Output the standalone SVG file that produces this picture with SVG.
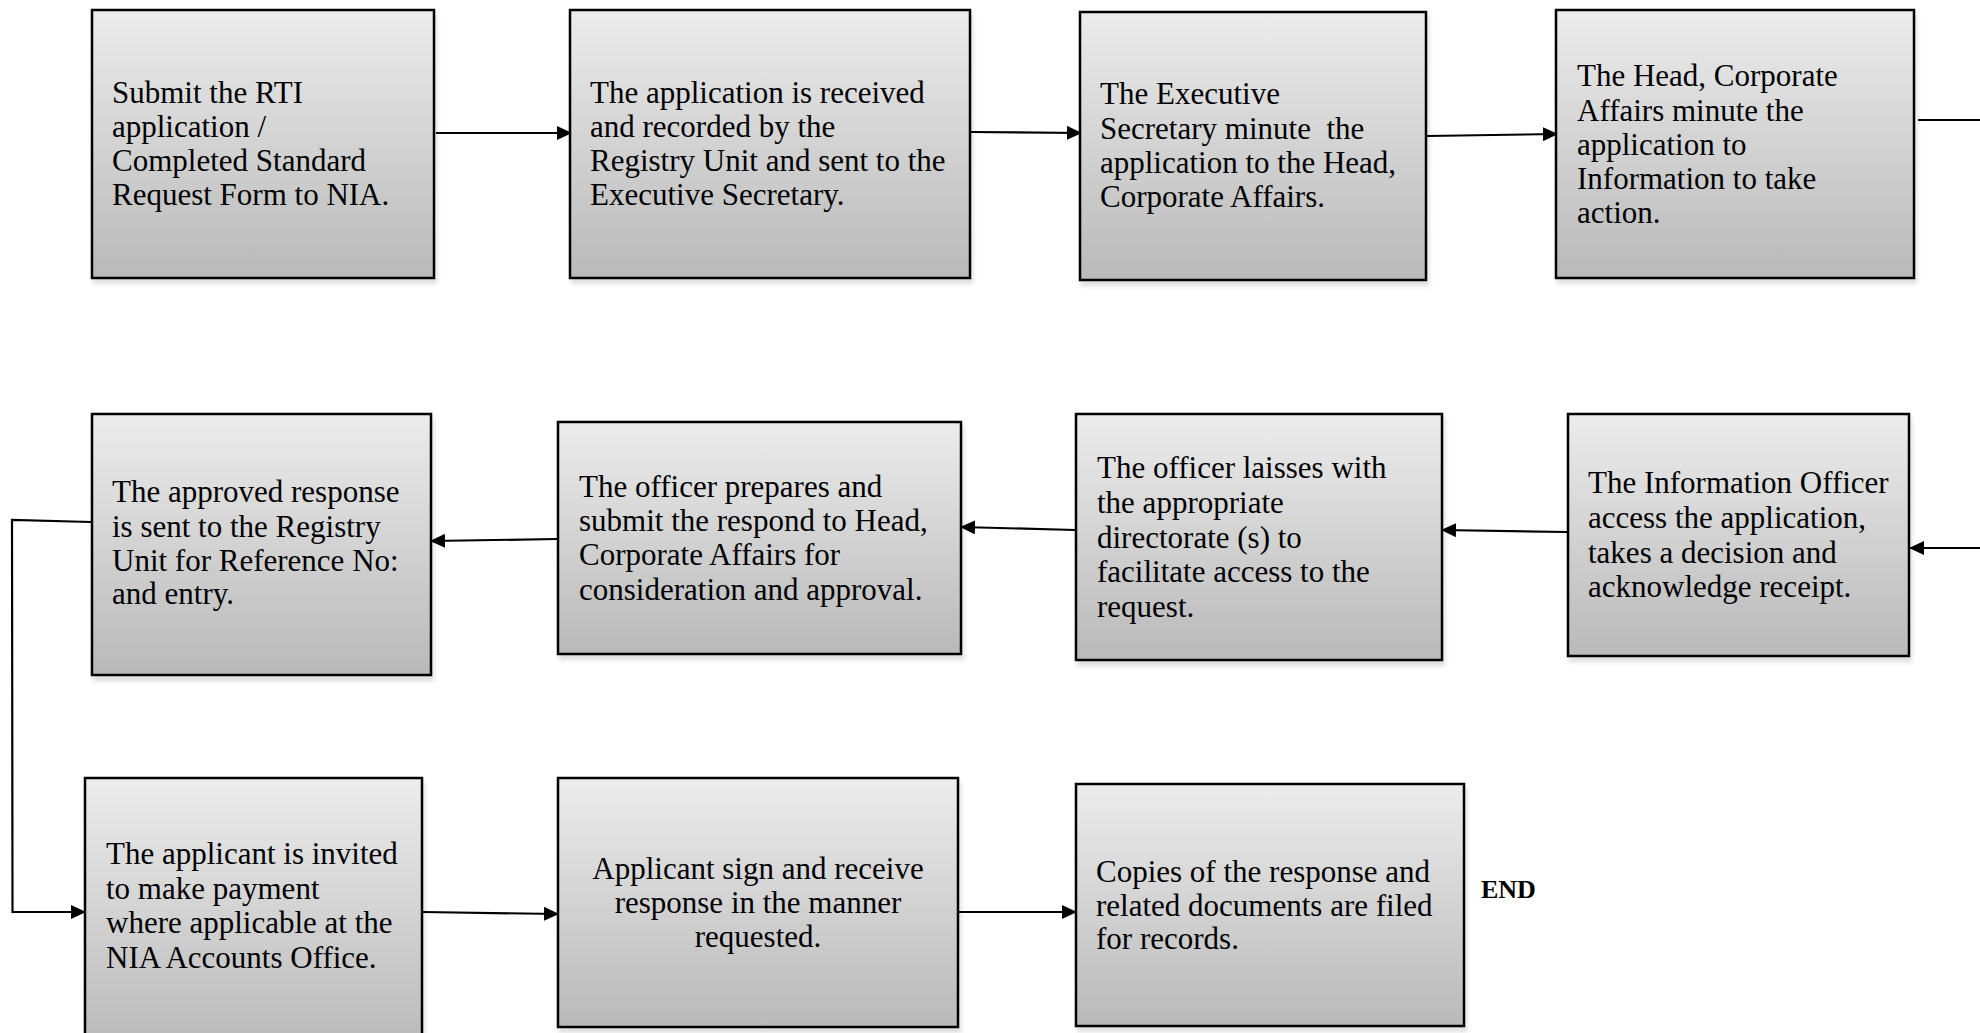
<svg xmlns="http://www.w3.org/2000/svg" width="1980" height="1033" viewBox="0 0 1980 1033">
<style>
.box{fill:url(#g);stroke:#000;stroke-width:2.5;filter:url(#sh)}
.t{font-family:"Liberation Serif","Times New Roman",serif;font-size:31px;fill:#000}
.c{text-anchor:middle}
.end{font-family:"Liberation Serif","Times New Roman",serif;font-size:26px;font-weight:bold;fill:#000}
.ln{fill:none;stroke:#000;stroke-width:2.2}
.ar{marker-end:url(#ah)}
</style>
<defs>
<linearGradient id="g" x1="0" y1="0" x2="0" y2="1">
<stop offset="0" stop-color="#ececec"/>
<stop offset="1" stop-color="#b9b9b9"/>
</linearGradient>
<filter id="sh" x="-5%" y="-5%" width="115%" height="115%">
<feDropShadow dx="2" dy="5" stdDeviation="2" flood-color="#000" flood-opacity="0.12"/>
</filter>
<marker id="ah" markerUnits="userSpaceOnUse" markerWidth="15" markerHeight="14" viewBox="0 0 15 14" refX="14" refY="7" orient="auto">
<path d="M0,0 L15,7 L0,14 z" fill="#000"/>
</marker>
</defs>
<rect width="1980" height="1033" fill="#fff"/>

<g id="connectors">
<line class="ln ar" x1="436" y1="133" x2="571" y2="133"/>
<line class="ln ar" x1="971" y1="132" x2="1081" y2="133"/>
<line class="ln ar" x1="1427" y1="136" x2="1557" y2="134"/>
<line class="ln" x1="1918" y1="120" x2="1980" y2="120"/>
<line class="ln ar" x1="1980" y1="548" x2="1910" y2="548"/>
<line class="ln ar" x1="1567" y1="532" x2="1442" y2="530"/>
<line class="ln ar" x1="1075" y1="530" x2="961" y2="527"/>
<line class="ln ar" x1="557" y1="539" x2="431" y2="541"/>
<polyline class="ln ar" points="91,522 12,520 12.5,912 85,912"/>
<line class="ln ar" x1="423" y1="912" x2="558" y2="914"/>
<line class="ln ar" x1="959" y1="912" x2="1076" y2="912"/>
</g>

<g id="n1">
<rect class="box" x="92" y="10" width="342" height="268"/>
<text class="t" x="112" y="103">Submit the RTI</text>
<text class="t" x="112" y="137">application /</text>
<text class="t" x="112" y="171">Completed Standard</text>
<text class="t" x="112" y="205">Request Form to NIA.</text>
</g>
<g id="n2">
<rect class="box" x="570" y="10" width="400" height="268"/>
<text class="t" x="590" y="103">The application is received</text>
<text class="t" x="590" y="137">and recorded by the</text>
<text class="t" x="590" y="171">Registry Unit and sent to the</text>
<text class="t" x="590" y="205">Executive Secretary.</text>
</g>
<g id="n3">
<rect class="box" x="1080" y="12" width="346" height="268"/>
<text class="t" x="1100" y="104">The Executive</text>
<text class="t" x="1100" y="138.5" style="white-space:pre">Secretary minute  the</text>
<text class="t" x="1100" y="173">application to the Head,</text>
<text class="t" x="1100" y="207">Corporate Affairs.</text>
</g>
<g id="n4">
<rect class="box" x="1556" y="10" width="358" height="268"/>
<text class="t" x="1577" y="86">The Head, Corporate</text>
<text class="t" x="1577" y="120.5">Affairs minute the</text>
<text class="t" x="1577" y="155">application to</text>
<text class="t" x="1577" y="189">Information to take</text>
<text class="t" x="1577" y="223">action.</text>
</g>

<g id="n5">
<rect class="box" x="1568" y="414" width="341" height="242"/>
<text class="t" x="1588" y="493">The Information Officer</text>
<text class="t" x="1588" y="528">access the application,</text>
<text class="t" x="1588" y="562.5">takes a decision and</text>
<text class="t" x="1588" y="596.5">acknowledge receipt.</text>
</g>
<g id="n6">
<rect class="box" x="1076" y="414" width="366" height="246"/>
<text class="t" x="1097" y="478">The officer laisses with</text>
<text class="t" x="1097" y="513">the appropriate</text>
<text class="t" x="1097" y="547.5">directorate (s) to</text>
<text class="t" x="1097" y="581.5">facilitate access to the</text>
<text class="t" x="1097" y="616.5">request.</text>
</g>
<g id="n7">
<rect class="box" x="558" y="422" width="403" height="232"/>
<text class="t" x="579" y="496.5">The officer prepares and</text>
<text class="t" x="579" y="531">submit the respond to Head,</text>
<text class="t" x="579" y="565">Corporate Affairs for</text>
<text class="t" x="579" y="599.5">consideration and approval.</text>
</g>
<g id="n8">
<rect class="box" x="92" y="414" width="339" height="261"/>
<text class="t" x="112" y="502">The approved response</text>
<text class="t" x="112" y="536.5">is sent to the Registry</text>
<text class="t" x="112" y="570.5">Unit for Reference No:</text>
<text class="t" x="112" y="604">and entry.</text>
</g>

<g id="n9">
<rect class="box" x="85" y="778" width="337" height="272"/>
<text class="t" x="106" y="864">The applicant is invited</text>
<text class="t" x="106" y="899">to make payment</text>
<text class="t" x="106" y="933">where applicable at the</text>
<text class="t" x="106" y="968">NIA Accounts Office.</text>
</g>
<g id="n10">
<rect class="box" x="558" y="778" width="400" height="249"/>
<text class="t c" x="758" y="879">Applicant sign and receive</text>
<text class="t c" x="758" y="913">response in the manner</text>
<text class="t c" x="758" y="947">requested.</text>
</g>
<g id="n11">
<rect class="box" x="1076" y="784" width="388" height="242"/>
<text class="t" x="1096" y="881.5">Copies of the response and</text>
<text class="t" x="1096" y="915.5">related documents are filed</text>
<text class="t" x="1096" y="949">for records.</text>
</g>
<g id="end">
<text class="end" x="1481" y="898">END</text>
</g>
</svg>
